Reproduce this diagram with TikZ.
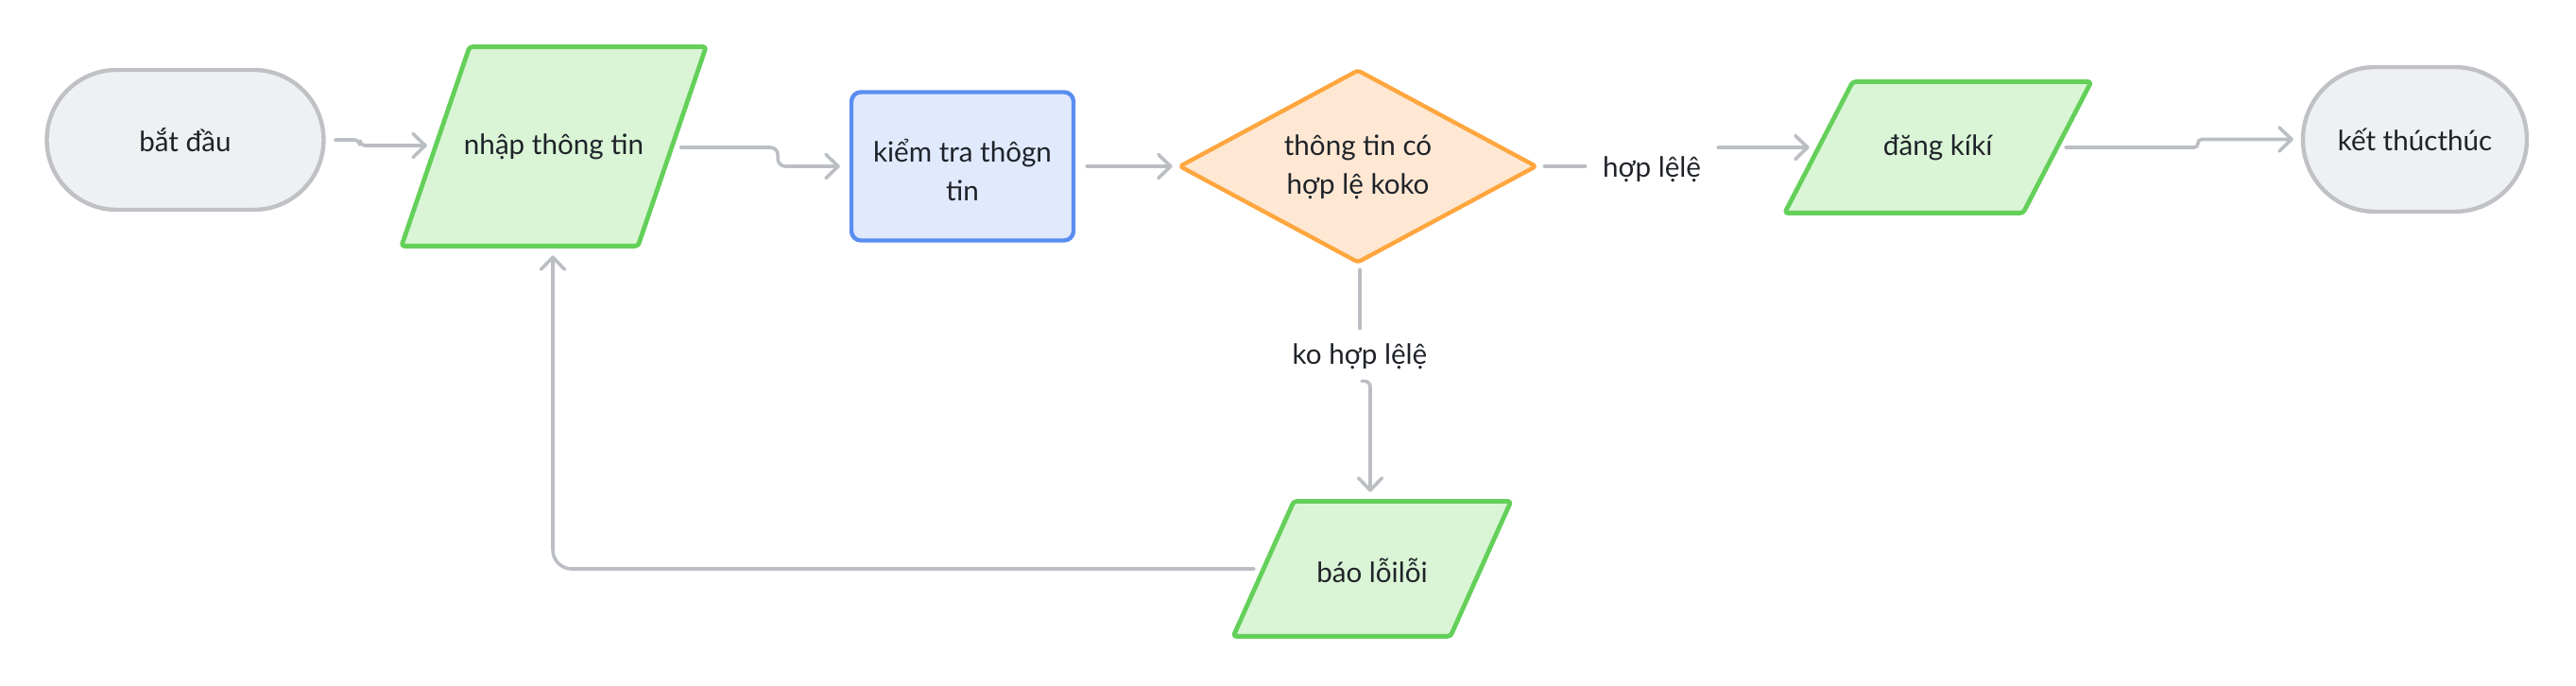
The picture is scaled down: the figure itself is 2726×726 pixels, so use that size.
\documentclass[tikz,border=0pt]{standalone}
\usepackage{fontspec}
\setmainfont{Lato}
\usetikzlibrary{calc,arrows.meta,shapes.misc}
\definecolor{txt}{HTML}{1F2329}
\definecolor{conncol}{HTML}{BBBEC3}
\definecolor{grayfill}{HTML}{EFF0F2}
\definecolor{graydraw}{HTML}{BFC1C5}
\definecolor{greenfill}{HTML}{DAF5D6}
\definecolor{greendraw}{HTML}{64D05A}
\definecolor{bluefill}{HTML}{E1E9FD}
\definecolor{bluedraw}{HTML}{5A8EF0}
\definecolor{orangefill}{HTML}{FEE8D3}
\definecolor{orangedraw}{HTML}{FFA63F}
\tikzset{
  every node/.style={text=txt, font=\fontsize{14.8}{20.5}\selectfont, align=center, inner sep=0pt},
  terminal/.style={rounded rectangle, draw=graydraw, fill=grayfill, line width=2.2pt},
  iobox/.style={draw=greendraw, fill=greenfill, line width=2.4pt, line join=round, rounded corners=1.5pt},
  procbox/.style={rectangle, draw=bluedraw, fill=bluefill, line width=2.2pt, rounded corners=5pt},
  decbox/.style={draw=orangedraw, fill=orangefill, line width=2.2pt, line join=round, rounded corners=1.5pt},
  conn/.style={draw=conncol, line width=1.8pt, line cap=round},
  arr/.style={conn, -{Straight Barb[length=6.5pt,width=12.5pt,round]}},
  edgelabel/.style={inner sep=0pt}
}
\begin{document}
\begin{tikzpicture}[x=0.5pt,y=-0.5pt]
\useasboundingbox (0,0) rectangle (2726,726);
% terminals and boxes
\node[terminal, minimum width=146.5pt, minimum height=74pt] (n1) at (196,148) {bắt đầu};
\node[minimum width=124.75pt, minimum height=105pt] (n2) at (586,155) {};
\node[procbox, minimum width=117.5pt, minimum height=78.5pt] (n3) at (1018.5,176) {};
\node[minimum width=188pt, minimum height=101pt] (n4) at (1437,176) {};
\node[minimum width=125.75pt, minimum height=69pt] (n5) at (2050.75,156) {};
\node[terminal, minimum width=118.5pt, minimum height=76.5pt] (n6) at (2555.5,147.5) {kết thúcthúc};
\node[minimum width=114.5pt, minimum height=71pt] (n7) at (1452,602) {};
% parallelograms and diamond
\draw[iobox] ($(n2.south west)+(-36,0)$) -- ($(n2.north west)+(36,0)$) -- ($(n2.north east)+(36,0)$) -- ($(n2.south east)+(-36,0)$) -- cycle;
\draw[iobox] ($(n5.south west)+(-36,0)$) -- ($(n5.north west)+(36,0)$) -- ($(n5.north east)+(36,0)$) -- ($(n5.south east)+(-36,0)$) -- cycle;
\draw[iobox] ($(n7.south west)+(-32,0)$) -- ($(n7.north west)+(32,0)$) -- ($(n7.north east)+(32,0)$) -- ($(n7.south east)+(-32,0)$) -- cycle;
\draw[decbox] (n4.north) -- (n4.east) -- (n4.south) -- (n4.west) -- cycle;
% texts
\node at (n2.center) {nhập thông tin};
\node at ($(n3.center)+(0,4)$) {kiểm tra thôgn\\tin};
\node at ($(n4.center)+(0,1)$) {thông tin có\\hợp lệ koko};
\node at (n5.center) {đăng kíkí};
\node at ($(n7.center)+(0,2)$) {báo lỗilỗi};
% labels
\node[edgelabel, minimum width=70pt] (l1) at (1748,179) {hợp lệlệ};
\node[edgelabel, minimum height=29pt] (l2) at (1439,377) {ko hợp lệlệ};
% connectors
\draw[arr, rounded corners=3pt] ($(n1.east)+(10,0)$) -- ++(26,0) |- ($(n2.west)+(-9,-1)$);
\draw[arr, rounded corners=4pt] ($(n2.east)+(9,1)$) -- ++(103,0) |- ($(n3.west)+(-10,0)$);
\draw[arr] ($(n3.east)+(12,0)$) -- ($(n4.west)+(-8,0)$);
\draw[conn] ($(n4.east)+(9,0)$) -- (n4.east -| l1.west);
\draw[arr] (l1.east |- n5.west) -- ($(n5.west)+(-10,0)$);
\draw[arr, rounded corners=2pt] ($(n5.east)+(9,0)$) -- ++(140,0) |- ($(n6.west)+(-8,0)$);
\draw[conn] ($(n4.south -| l2.north)+(0,8)$) -- (l2.north);
\draw[arr, rounded corners=3pt] ($(l2.south)+(2,-3)$) -| ($(n7.north)+(-2,-10)$);
\draw[arr, rounded corners=10pt] ($(n7.west)+(-10,0)$) -| ($(n2.south)+(-1,10)$);
\end{tikzpicture}
\end{document}
